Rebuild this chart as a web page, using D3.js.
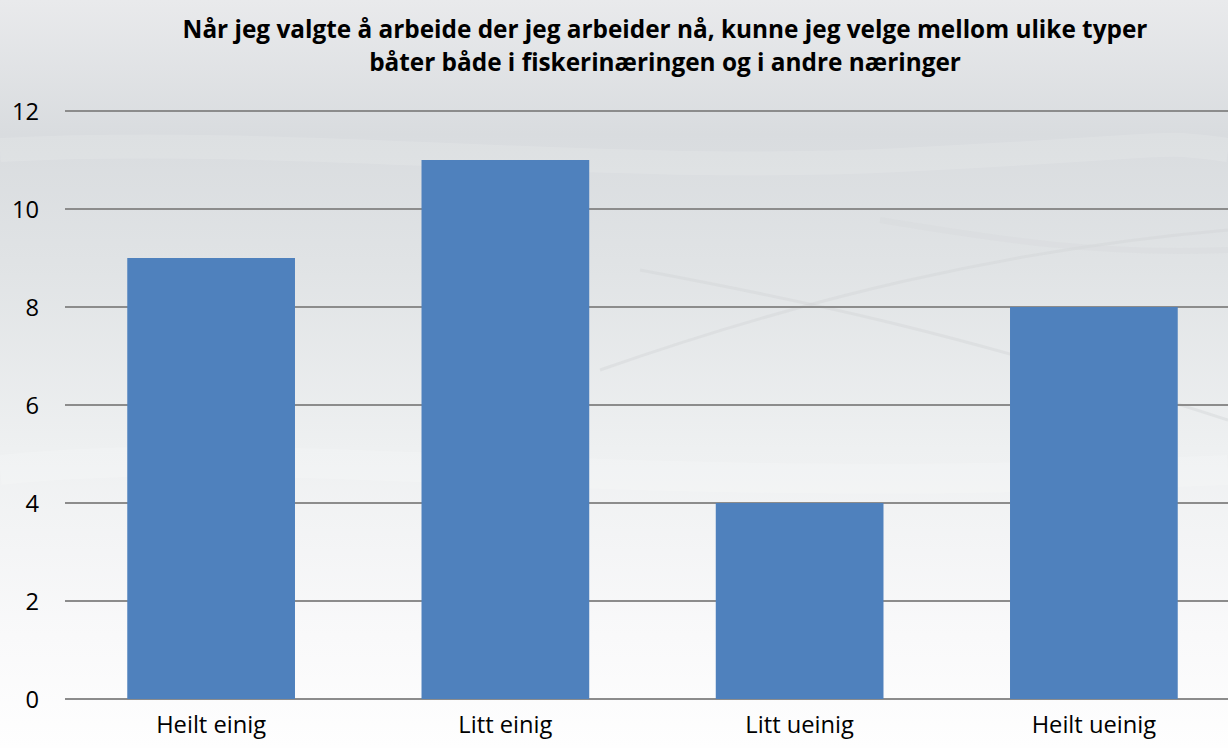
<!DOCTYPE html>
<html><head><meta charset="utf-8">
<script src="https://cdn.jsdelivr.net/npm/d3@7"></script>
<style>body{margin:0;background:#fff}svg{display:block}</style>
</head><body>
<script>
const categories = ["Heilt einig","Litt einig","Litt ueinig","Heilt ueinig"];
const values = [9, 11, 4, 8];
const yTicks = [0,2,4,6,8,10,12];
const titleLines = ["Når jeg valgte å arbeide der jeg arbeider nå, kunne jeg velge mellom ulike typer","båter både i fiskerinæringen og i andre næringer"];

const W=1228,H=748;
const svg=d3.select("body").append("svg").attr("width",W).attr("height",H);
const defs=svg.append("defs");
const g1=defs.append("linearGradient").attr("id","bg").attr("x1",0).attr("y1",0).attr("x2",0).attr("y2",1);
[["0%","#e9eaec"],["18%","#d9dcdf"],["35%","#e0e3e5"],["60%","#eef0f1"],["85%","#f9f9fa"],["100%","#fefefe"]]
 .forEach(s=>g1.append("stop").attr("offset",s[0]).attr("stop-color",s[1]));
svg.append("rect").attr("width",W).attr("height",H).attr("fill","url(#bg)");
// faint swooshes
const sw=svg.append("g").attr("fill","none");
sw.append("path").attr("d","M0,150 C300,135 600,175 900,160 S1150,140 1228,150").attr("stroke","#ffffff").attr("stroke-width",24).attr("opacity",0.12);
sw.append("path").attr("d","M0,470 C300,440 600,500 1228,470").attr("stroke","#ffffff").attr("stroke-width",30).attr("opacity",0.15);
sw.append("path").attr("d","M600,370 C800,300 1000,250 1228,230").attr("stroke","#d2d5d8").attr("stroke-width",3).attr("opacity",0.45);
sw.append("path").attr("d","M640,270 C800,300 950,330 1228,420").attr("stroke","#d2d5d8").attr("stroke-width",3).attr("opacity",0.45);
sw.append("path").attr("d","M880,220 C1000,240 1100,255 1228,250").attr("stroke","#d6d9dc").attr("stroke-width",6).attr("opacity",0.4);

const x=d3.scaleBand().domain(categories).range([64,1241]).paddingInner(0.43).paddingOuter(0.215);
const y=d3.scaleLinear().domain([0,12]).range([699,111]);

const grid=svg.append("g");
grid.selectAll("line").data(yTicks).join("line")
 .attr("x1",65).attr("x2",W).attr("y1",d=>y(d)).attr("y2",d=>y(d))
 .attr("stroke","#8c8c8c").attr("stroke-width",2);

svg.append("g").selectAll("rect").data(values).join("rect")
 .attr("x",(d,i)=>x(categories[i])).attr("width",x.bandwidth())
 .attr("y",d=>y(d)).attr("height",d=>y(0)-y(d)).attr("fill","#4f81bd");

const font="'Open Sans', sans-serif";
function fit(sel,target){
  const w=sel.node().getComputedTextLength(); const fs=+sel.attr("font-size");
  sel.attr("font-size",fs*target/w);
}
const yAxis=d3.axisLeft(y).tickValues(yTicks).tickSize(0).tickPadding(0);
const ya=svg.append("g").attr("transform","translate(39,0)").call(yAxis);
ya.select(".domain").remove();
ya.selectAll("text").attr("font-family",font).attr("font-size",20).attr("fill","#000").attr("text-anchor","end").attr("dy","0.35em");

const xAxis=d3.axisBottom(x).tickSize(0).tickPadding(0);
const xa=svg.append("g").attr("transform","translate(0,713)").call(xAxis);
xa.select(".domain").remove();
xa.selectAll("text").attr("font-family",font).attr("font-size",20).attr("fill","#000").attr("dy","0.85em");
fit(xa.select(".tick text"),110);
const fsx=xa.select(".tick text").attr("font-size");
xa.selectAll("text").attr("font-size",fsx);
ya.selectAll("text").attr("font-size",fsx);

const t=svg.append("text").attr("font-family",font).attr("font-weight","bold").attr("font-size",20).attr("text-anchor","middle").attr("fill","#000");
const sp=titleLines.map((l,i)=>t.append("tspan").attr("x",665).attr("y",38+i*33).text(l));
const w0=sp[0].node().getComputedTextLength();
t.attr("font-size",20*965/w0);
</script>
</body></html>
